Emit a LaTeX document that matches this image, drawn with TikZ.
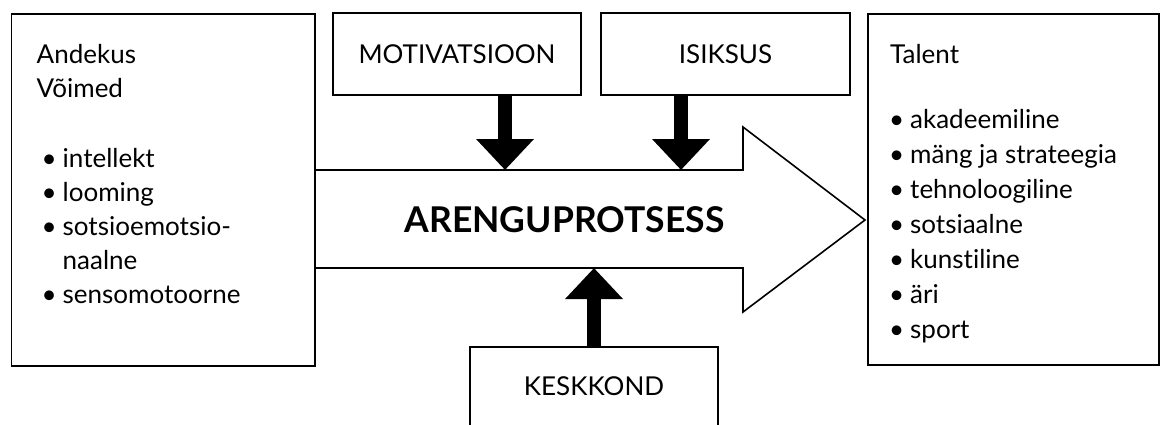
\documentclass[tikz,border=0pt]{standalone}
\usepackage{fontspec}
\setmainfont[Ligatures=NoCommon]{Lato}
\usetikzlibrary{arrows.meta}

\tikzset{
  box/.style={draw, line width=1.6pt, inner sep=0pt, font=\fontsize{26}{34}\selectfont},
  fatarrow/.style={line width=14pt, -{Triangle[width=56pt,length=31pt]}},
  item/.style={anchor=base west, inner sep=0pt, font=\fontsize{26}{34}\selectfont},
}
\newcommand{\bul}[1]{\makebox[21pt][l]{\textbullet}#1}

\begin{document}
\begin{tikzpicture}[x=1pt,y=-1pt]
  \useasboundingbox (0,0) rectangle (1161,424);

  % the boxes
  \node[box, minimum width=303.5pt, minimum height=352pt] (andekus) at (163.25,190) {};
  \node[box, minimum width=291pt, minimum height=351pt] (talent) at (1013.5,189.5) {};
  \node[box, minimum width=248pt, minimum height=82pt] (motiv) at (457,54) {MOTIVATSIOON};
  \node[box, minimum width=249pt, minimum height=82pt] (isiksus) at (725.5,54) {ISIKSUS};
  % the bottom edge of this one lies below the picture
  \node[box, minimum width=248pt, minimum height=90pt] (kesk) at (594,392)
      {\raisebox{6pt}[\height][\depth]{KESKKOND}};

  % the big arrow
  \draw[line width=1.6pt, line join=miter] (315,170) -- (743,170) -- (743,127) -- (865,220)
      -- (743,312) -- (743,268) -- (315,268);
  \node[inner sep=0pt, font=\fontsize{35.5}{40}\bfseries] (protsess) at (564.5,220) {ARENGUPROTSESS};

  % the texts on the left
  \node[item] (andekustitle) at (36.5,63) {Andekus};
  \node[item] (voimed) at (36.5,97) {Võimed};
  \node[item] (v1) at (41.5,167) {\bul{intellekt}};
  \node[item] (v2) at (41.5,201) {\bul{looming}};
  \node[item] (v3) at (41.5,235) {\bul{sotsioemotsio-}};
  \node[item] (v4) at (62.5,269) {naalne};
  \node[item] (v5) at (41.5,303) {\bul{sensomotoorne}};

  % the texts on the right
  \node[item] (talenttitle) at (890,63) {Talent};
  \node[item] (t1) at (889,128) {\bul{akadeemiline}};
  \node[item] (t2) at (889,163) {\bul{mäng ja strateegia}};
  \node[item] (t3) at (889,198) {\bul{tehnoloogiline}};
  \node[item] (t4) at (889,233) {\bul{sotsiaalne}};
  \node[item] (t5) at (889,268) {\bul{kunstiline}};
  \node[item] (t6) at (889,303) {\bul{äri}};
  \node[item] (t7) at (889,338) {\bul{sport}};

  % the points where the thick arrows meet the big arrow
  \coordinate (mtip) at (505,170);
  \coordinate (itip) at (681,170);
  \coordinate (ktip) at (594,268);

  % draw the arrows
  \draw[fatarrow] (mtip |- motiv.south) -- (mtip);
  \draw[fatarrow] (itip |- isiksus.south) -- (itip);
  \draw[fatarrow] (kesk.north) -- (ktip);

\end{tikzpicture}
\end{document}
